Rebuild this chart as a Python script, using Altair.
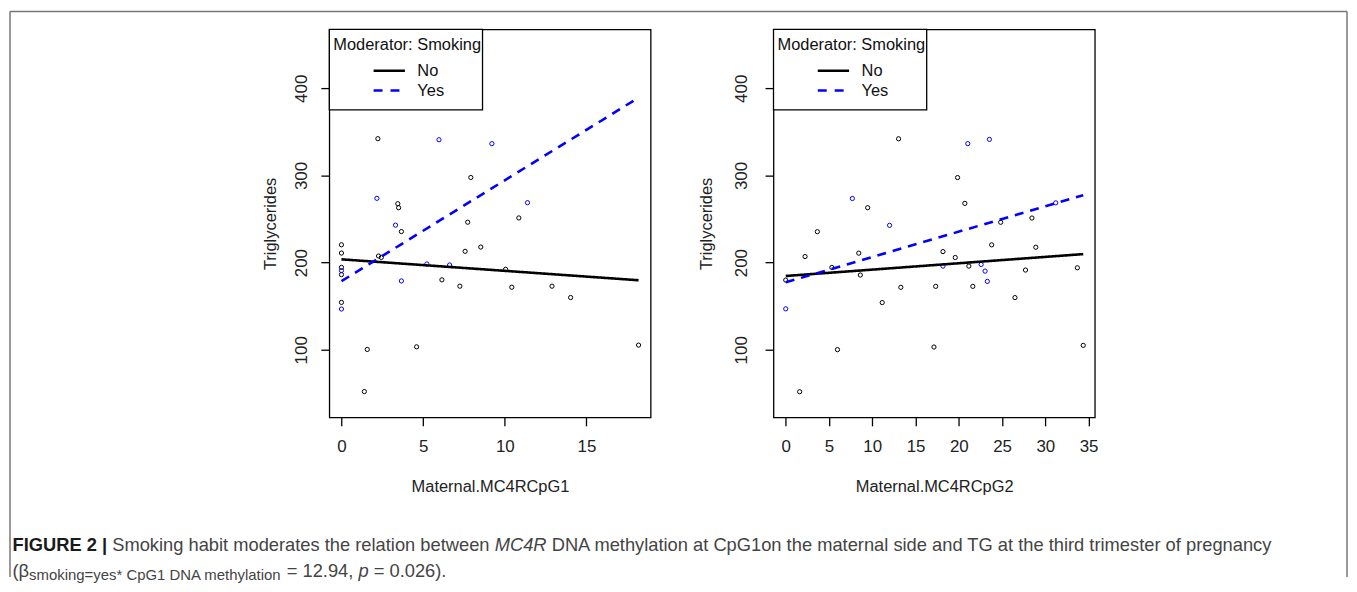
import altair as alt
import pandas as pd

# ---------------- data ----------------
groups = ["No", "Yes"]
legend_title = "Moderator: Smoking"
y_title = "Triglycerides"
y_ticks = [100, 200, 300, 400]

# Panel 1: Maternal.MC4RCpG1
p1_title = "Maternal.MC4RCpG1"
p1_ticks = [0, 5, 10, 15]
p1_no_x = [2.23, 7.92, 3.45, 3.50, 10.86, 3.67, 7.73, 0.0, 0.0, 2.27, 2.44, 8.53, 7.57,
           0.0, 0.0, 0.0, 10.05, 6.15, 7.25, 10.43, 12.89, 14.03, 1.58, 4.60, 1.40, 18.19]
p1_no_y = [342.2, 297.7, 267.6, 263.0, 251.3, 235.7, 246.4, 220.5, 211.0, 207.6, 206.0, 217.9, 213.0,
           194.6, 186.3, 154.4, 192.4, 180.3, 173.0, 171.8, 173.0, 160.0, 100.4, 103.4, 52.1, 105.4]
p1_yes_x = [5.97, 9.21, 2.17, 11.39, 3.31, 0.0, 0.0, 5.23, 6.62, 3.67]
p1_yes_y = [341.0, 336.5, 273.8, 268.8, 243.0, 190.9, 146.8, 198.5, 197.3, 179.0]
p1_line_x = [0.0, 18.19]
p1_line_no = [203.8, 179.8]
p1_line_yes = [178.7, 389.3]

# Panel 2: Maternal.MC4RCpG2
p2_title = "Maternal.MC4RCpG2"
p2_ticks = [0, 5, 10, 15, 20, 25, 30, 35]
p2_no_x = [13.04, 19.86, 9.47, 20.70, 28.45, 3.65, 24.84, 2.23, 8.44, 18.17, 19.59, 23.80, 28.90,
           5.33, 8.62, 0.0, 21.16, 27.71, 33.70, 13.30, 17.33, 21.62, 26.49, 11.15, 5.98, 17.13, 1.61, 34.38]
p2_no_y = [342.1, 297.6, 263.0, 268.0, 251.2, 235.5, 246.3, 207.0, 210.9, 212.7, 205.9, 220.4, 217.7,
           194.5, 185.8, 180.0, 196.0, 191.5, 194.1, 171.7, 172.8, 172.8, 159.9, 154.2, 100.2, 103.2, 51.9, 105.1]
p2_yes_x = [21.04, 23.54, 7.70, 31.20, 12.00, 0.0, 18.17, 22.58, 23.04, 23.30]
p2_yes_y = [336.5, 341.4, 273.6, 268.6, 242.8, 147.0, 196.0, 197.9, 190.3, 178.5]
p2_line_x = [0.0, 34.38]
p2_line_no = [184.7, 209.8]
p2_line_yes = [177.4, 277.4]

# caption
cap1 = [("FIGURE 2 |", "bold"), (" Smoking habit moderates the relation between ", "normal"),
        ("MC4R", "italic"),
        (" DNA methylation at CpG1on the maternal side and TG at the third trimester of pregnancy", "normal")]
cap2 = [("(\u03b2", "normal"), ("smoking=yes* CpG1 DNA methylation", "sub"), (" = 12.94, ", "normal"),
        ("p", "italic"), (" = 0.026).", "normal")]

# ---------------- layout / style ----------------
FONT = "Liberation Sans"
W, H = 323, 390
OX, OY = 330.5, 27.5          # page position of the left plot area
Y_DOMAIN = [22.5, 467.6]

AFM = {" ": 278, "(": 333, ")": 333, "*": 389, ",": 278, ".": 278, ":": 278, "=": 584, "|": 260,
       "\u03b2": 575}
AFM.update({d: 556 for d in "0123456789"})
AFM.update(dict(zip("ABCDEFGHIJKLMNOPQRSTUVWXYZ",
                    [667, 667, 722, 722, 667, 611, 778, 722, 278, 500, 667, 556, 833, 722, 778, 667,
                     778, 722, 667, 611, 722, 667, 944, 667, 667, 611])))
AFM.update(dict(zip("abcdefghijklmnopqrstuvwxyz",
                    [556, 556, 500, 556, 556, 278, 556, 556, 222, 222, 500, 222, 833, 556, 556, 556,
                     556, 333, 500, 278, 556, 500, 722, 500, 500, 500])))
BOLD = dict(AFM)
BOLD.update({"|": 280})


def tw(s, fs, bold=False):
    t = BOLD if bold else AFM
    return sum(t.get(c, 556) for c in s) * fs / 1000.0


one = pd.DataFrame({"a": [0]})
CAP_FS = 18.4
SUB_FS = 15.0
CAP_COLOR = "#444444"


def caption_layers():
    layers = []
    for pieces, base_y in ((cap1, 552.0), (cap2, 577.5)):
        x = 12.0
        for txt, style in pieces:
            fs = SUB_FS if style == "sub" else CAP_FS
            lead = len(txt) - len(txt.lstrip(" "))
            xs = x + tw(" " * lead, fs)
            kw = dict(text=txt.strip(" "), align="left", baseline="alphabetic", font=FONT,
                      fontSize=fs, color=CAP_COLOR)
            if style == "bold":
                kw.update(fontWeight="bold", color="#1a1a1a")
            if style == "italic":
                kw.update(fontStyle="italic")
            yy = base_y + (3 if style == "sub" else 0)
            layers.append(alt.Chart(one).mark_text(**kw).encode(
                x=alt.value(xs - OX), y=alt.value(yy - OY)))
            x += tw(txt, fs, style == "bold")
    return layers


def frame_layers():
    c = "#777777"
    # the top/left frame lines define the chart's top-left bound (stroke adds 1.5 px)
    L, R, T, B = 9.5 - OX, 1353.5 - OX, 9.5 - OY, 578 - OY
    return [
        alt.Chart(one).mark_rule(color=c, strokeWidth=1.5).encode(
            x=alt.value(L), x2=alt.value(R), y=alt.value(T)),
        alt.Chart(one).mark_rule(color=c, strokeWidth=1.5).encode(
            x=alt.value(L), y=alt.value(T), y2=alt.value(B)),
        alt.Chart(one).mark_rule(color=c, strokeWidth=1.5).encode(
            x=alt.value(R), y=alt.value(T), y2=alt.value(B)),
    ]


def legend_layers():
    out = [
        alt.Chart(one).mark_rect(fill="white", stroke="black", strokeWidth=1.3).encode(
            x=alt.value(0), x2=alt.value(154), y=alt.value(0), y2=alt.value(81)),
        alt.Chart(one).mark_text(text=legend_title, align="left", baseline="middle", font=FONT,
                                 fontSize=16.5, color="#111111").encode(
            x=alt.value(4), y=alt.value(16)),
    ]
    for g, yy, col, dash in ((groups[0], 41.5, "black", [1, 0]), (groups[1], 61.5, "blue", [9, 8])):
        out.append(alt.Chart(one).mark_rule(color=col, strokeWidth=2.5, strokeDash=dash).encode(
            x=alt.value(44.5), x2=alt.value(76), y=alt.value(yy)))
        out.append(alt.Chart(one).mark_text(text=g, align="left", baseline="middle", font=FONT,
                                            fontSize=16.5, color="#111111").encode(
            x=alt.value(88.5), y=alt.value(yy + 0.5)))
    return out


def panel(no_x, no_y, yes_x, yes_y, lx, lno, lyes, xdom, xticks, xtitle, ylab_pad, ytitle_x, extra):
    pts = pd.DataFrame({"x": no_x + yes_x, "y": no_y + yes_y,
                        "g": [groups[0]] * len(no_x) + [groups[1]] * len(yes_x)})
    lines = pd.DataFrame({"x": lx + lx, "y": lno + lyes, "g": [groups[0]] * 2 + [groups[1]] * 2})
    xaxis = alt.Axis(values=xticks, title=xtitle, domain=False, grid=False, tickSize=8.5,
                     tickWidth=1.3, tickColor="black", labelFont=FONT, labelFontSize=17,
                     labelColor="#222222", labelPadding=21.2, labelBaseline="middle",
                     labelFlush=False, labelOverlap=False, titleFont=FONT, titleFontSize=16.5,
                     titleFontWeight="normal", titleColor="#222222", titleBaseline="middle",
                     titleY=70, titleX=W / 2, titleAlign="center")
    yaxis = alt.Axis(values=y_ticks, title=y_title, domain=False, grid=False, tickSize=8.5,
                     tickWidth=1.3, tickColor="black", labelFont=FONT, labelFontSize=17,
                     labelColor="#222222", labelAngle=270, labelAlign="center",
                     labelBaseline="middle", labelPadding=ylab_pad, labelFlush=False,
                     labelOverlap=False, titleFont=FONT, titleFontSize=16.5,
                     titleFontWeight="normal", titleColor="#222222", titleAngle=270,
                     titleAlign="center", titleBaseline="middle", titleX=ytitle_x, titleY=H / 2)
    X = alt.X("x:Q", scale=alt.Scale(domain=xdom, nice=False, zero=False), axis=xaxis)
    Y = alt.Y("y:Q", scale=alt.Scale(domain=Y_DOMAIN, nice=False, zero=False), axis=yaxis)
    color = alt.Color("g:N", scale=alt.Scale(domain=groups, range=["black", "blue"]), legend=None)
    dash = alt.StrokeDash("g:N", scale=alt.Scale(domain=groups, range=[[1, 0], [9, 7]]), legend=None)
    p = alt.Chart(pts).mark_point(shape="circle", filled=False, size=18, strokeWidth=1,
                                  opacity=1).encode(x=X, y=Y, color=color)
    ln = alt.Chart(lines).mark_line(strokeWidth=2.6).encode(x=X, y=Y, color=color,
                                                            strokeDash=dash, detail="g:N")
    return alt.layer(*extra, p, ln, *legend_layers()).properties(width=W, height=H)


left = panel(p1_no_x, p1_no_y, p1_yes_x, p1_yes_y, p1_line_x, p1_line_no, p1_line_yes,
             [-0.743, 18.93], p1_ticks, p1_title, 19.5, -59.5,
             frame_layers() + caption_layers())
right = panel(p2_no_x, p2_no_y, p2_yes_x, p2_yes_y, p2_line_x, p2_line_no, p2_line_yes,
              [-1.414, 35.72], p2_ticks, p2_title, 24, -67.8, [])

chart = alt.hconcat(left, right, spacing=123.5, bounds="flush").properties(
    padding=0, background="white"
).configure(
    font=FONT,
    view=alt.ViewConfig(stroke="black", strokeWidth=1.3),
)

chart.save("out.html", embed_options={"renderer": "svg", "actions": False})
